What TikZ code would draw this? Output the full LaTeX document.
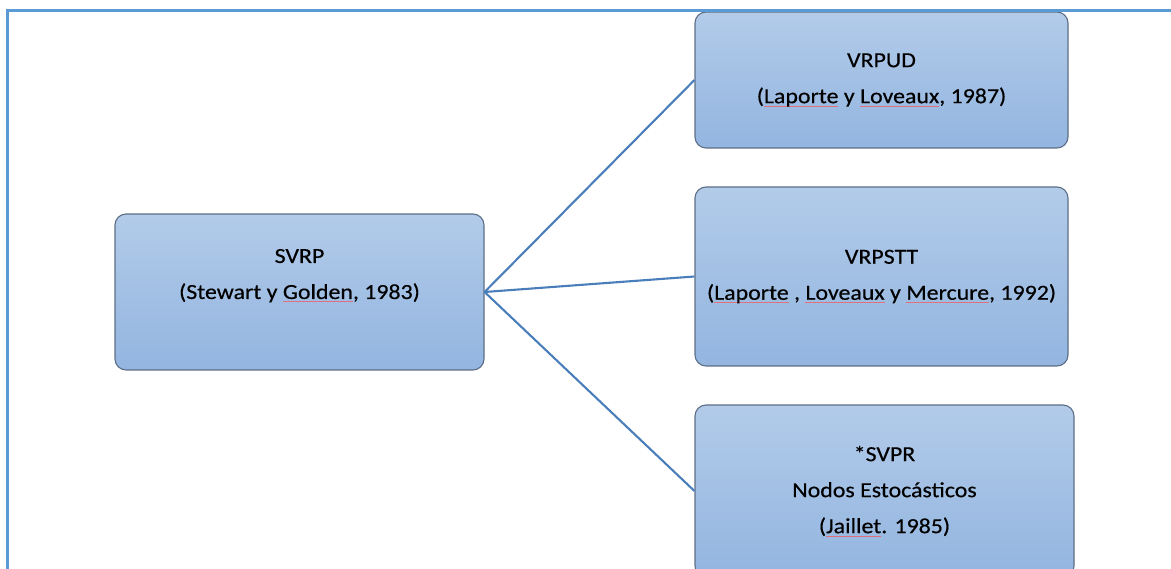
\documentclass[tikz,border=0pt]{standalone}
\usepackage{fontspec}
\setmainfont[FakeStretch=1.11,FakeBold=0.4]{Carlito}

\definecolor{frameblue}{HTML}{5B9BD5}
\definecolor{linkblue}{HTML}{4A7EBB}
\definecolor{boxtop}{HTML}{B2CBE9}
\definecolor{boxbot}{HTML}{93B5E0}
\definecolor{boxedge}{HTML}{5D6F86}
\definecolor{spellred}{HTML}{E0707C}

% thin red proofing underline beneath a word
\newcommand\spellmark[1]{\setbox0\hbox{#1}\rlap{\textcolor{spellred}{\rule[-3pt]{\wd0}{0.5pt}}}\box0\relax}

\begin{document}
\begin{tikzpicture}[x=1pt,y=-1pt,
  card/.style={draw=boxedge, line width=1.1pt, rounded corners=11pt,
    top color=boxtop, bottom color=boxbot, align=center, inner sep=0pt,
    font=\fontsize{21.5}{36}\selectfont, text=black},
  link/.style={draw=linkblue, line width=2.1pt},
  framerule/.style={draw=frameblue, line width=3pt}]
\useasboundingbox (0,0) rectangle (1171,569);
\clip (0,0) rectangle (1171,569);

% root and its three branches
\node[card, minimum width=369pt, minimum height=156pt] (svrp) at (299.5,292)
  {SVRP\\(Stewart y \spellmark{Golden}, 1983)\\~};
\node[card, minimum width=373pt, minimum height=136pt] (vrpud) at (881.5,80)
  {VRPUD\\(\spellmark{Laporte} y \spellmark{Loveaux}, 1987)};
\node[card, minimum width=373pt, minimum height=179pt] (vrpstt) at (881.5,276.5)
  {VRPSTT\\(\spellmark{Laporte} , \spellmark{Loveaux} y \spellmark{Mercure}, 1992)};
\node[card, minimum width=379pt, minimum height=172pt] (svpr) at (884.5,491)
  {*SVPR\\Nodos Estocásticos\\(\spellmark{Jaillet}. 1985)};

% connectors
\draw[link] (svrp.east) -- (vrpud.west);
\draw[link] (svrp.east) -- (vrpstt.west);
\draw[link] (svrp.east) -- (svpr.west);

% page frame
\draw[framerule] (7,569) -- (7,11) -- (1171,11);
\end{tikzpicture}
\end{document}
